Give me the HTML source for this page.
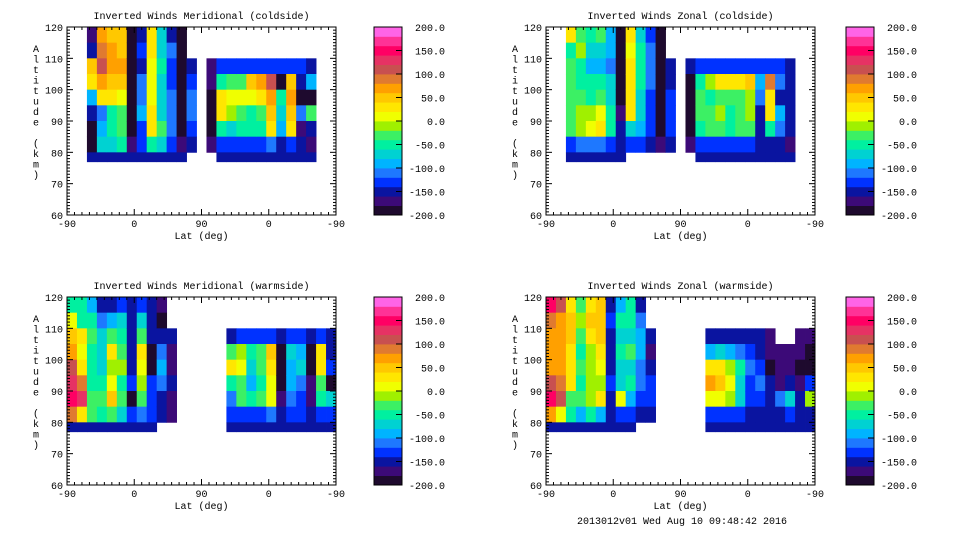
<!DOCTYPE html>
<html><head><meta charset="utf-8"><style>
body{margin:0;background:#fff;width:960px;height:540px;overflow:hidden}
svg text{font-family:"Liberation Mono","DejaVu Sans Mono",monospace;font-size:10px;fill:#000}
</style></head><body>
<svg id="c" width="960" height="540" viewBox="0 0 960 540" xmlns="http://www.w3.org/2000/svg"></svg>
<script>
// Altitude rows (top of each 5 km bin), latitude columns are 27 equal bins across the plot
const rowTops = [120,115,110,105,100,95,90,85,80];
const xTickLabels = ["-90","0","90","0","-90"];
const yTickLabels = [60,70,80,90,100,110,120];
const cbarTickValues = [200,150,100,50,0,-50,-100,-150,-200];
const cbarLevels = [-200,-180,-160,-140,-120,-100,-80,-60,-40,-20,0,20,40,60,80,100,120,140,160,180];
const panelTitles = ["Inverted Winds Meridional (coldside)","Inverted Winds Zonal (coldside)","Inverted Winds Meridional (warmside)","Inverted Winds Zonal (warmside)"];
const n=null;
const meridCold = [
[n,n,n,n,n,n,n,n,n],[n,n,n,n,n,n,n,n,n],
[-180,-150,40,20,-100,-150,-190,-190,-160],
[60,90,110,60,20,-120,-100,-80,-150],
[50,60,60,50,20,-50,-60,-80,-150],
[40,50,60,50,0,-30,-40,-60,-160],
[-190,-190,-190,-190,-190,-190,-190,-170,-160],
[-150,-140,-150,-120,-120,-100,-140,-140,-160],
[30,20,0,0,10,20,20,-60,-150],
[-80,-80,-60,-70,-80,-70,-40,-80,-150],
[-150,-120,-130,-130,-120,-120,-110,-140,-160],
[-190,-190,-190,-190,-190,-190,-190,-170,-160],
[n,n,-150,-130,-110,-120,-130,-150,n],
[n,n,n,n,n,n,n,n,n],
[n,n,-180,-180,-190,-190,-190,-180,n],
[n,n,-140,-60,20,30,-60,-140,-160],
[n,n,-140,-40,0,-10,-80,-140,-160],
[n,n,-140,-30,10,-30,-60,-130,-160],
[n,n,-140,40,10,-50,-50,-130,-160],
[n,n,-140,60,20,-30,-50,-130,-160],
[n,n,-140,100,60,40,30,-120,-160],
[n,n,-140,-190,-60,-80,-100,-150,-160],
[n,n,-140,50,60,50,20,-130,-150],
[n,n,-140,-150,-190,-120,-170,-160,-150],
[n,n,-150,-100,-190,-40,-150,-170,-160],
[n,n,n,n,n,n,n,n,n],[n,n,n,n,n,n,n,n,n]];
const zonalCold = [
[n,n,n,n,n,n,n,n,n],[n,n,n,n,n,n,n,n,n],
[30,-50,-30,-30,-30,-30,-40,-140,-160],
[-30,-20,-50,-60,-40,-10,-10,-120,-150],
[-50,-70,-90,-60,-50,-10,0,-120,-150],
[-40,-70,-100,-60,-40,10,20,-110,-160],
[-100,-100,-120,-80,-80,-60,-60,-130,-160],
[-190,-190,-190,-190,-190,-180,-150,-150,-160],
[20,10,20,30,30,20,-70,-140,n],
[-80,-60,-60,-60,-80,-70,-100,-130,n],
[-140,-120,-110,-120,-130,-130,-130,-150,n],
[-190,-190,-190,-190,-190,-190,-190,-170,n],
[n,n,-160,-150,-130,-130,-140,-160,n],
[n,n,n,n,n,n,n,n,n],
[n,n,-160,-190,-190,-190,-190,-170,n],
[n,n,-140,-60,-40,-40,-60,-140,-160],
[n,n,-140,-20,-50,-40,-40,-130,-160],
[n,n,-140,20,-30,-20,-30,-130,-160],
[n,n,-140,30,-40,-60,-50,-130,-160],
[n,n,-140,30,-40,-40,-30,-130,-160],
[n,n,-140,40,-20,-10,-40,-130,-160],
[n,n,-140,-100,-120,-150,-160,-150,-150],
[n,n,-140,80,20,20,-60,-150,-150],
[n,n,-140,-120,-150,-100,-120,-150,-160],
[n,n,-160,-160,-160,-160,-160,-170,-160],
[n,n,n,n,n,n,n,n,n],[n,n,n,n,n,n,n,n,n]];
const meridWarm = [
[-50,0,50,60,100,120,150,80,-150],
[-60,-50,20,0,30,80,120,20,-150],
[-100,-50,-30,-60,-60,-60,-40,-30,-150],
[-150,-120,-80,-80,-80,-50,-30,-50,-150],
[-150,-100,-30,30,-20,10,40,-40,-150],
[-130,-80,-60,-40,-20,-60,-30,-80,-150],
[-150,-160,-150,-150,-150,-130,-190,-140,-160],
[-130,-70,-30,20,10,-10,-30,-120,-160],
[-150,-150,-150,-190,-190,-140,-130,-140,-160],
[-170,-190,-150,-120,-100,-120,-160,-160,n],
[n,n,-160,-170,-170,-160,-170,-170,n],
[n,n,n,n,n,n,n,n,n],[n,n,n,n,n,n,n,n,n],[n,n,n,n,n,n,n,n,n],[n,n,n,n,n,n,n,n,n],[n,n,n,n,n,n,n,n,n],
[n,n,-150,-30,30,-60,-110,-140,-160],
[n,n,-140,-20,0,-30,-40,-130,-160],
[n,n,-140,-60,-70,-90,-60,-130,-160],
[n,n,-140,-40,-40,-50,-40,-130,-160],
[n,n,-140,40,30,0,10,-120,-160],
[n,n,-150,-190,-190,-190,-170,-160,-160],
[n,n,-140,-80,-90,-100,-110,-140,-160],
[n,n,-140,-100,-80,-120,-130,-140,-150],
[n,n,-150,-190,-190,-180,-170,-160,-150],
[n,n,-140,30,20,-40,-60,-140,-160],
[n,n,-150,-150,-130,-190,-80,-140,-160]];
const zonalWarm = [
[150,80,60,70,60,110,140,60,-150],
[100,70,60,60,60,80,100,0,-150],
[20,40,40,30,30,20,-30,-60,-150],
[-30,-20,-40,-50,-40,-60,-40,-90,-150],
[30,40,20,-20,-10,-10,-20,-60,-150],
[50,40,40,30,0,-10,20,-100,-150],
[-150,-140,-150,-160,-160,-140,-150,-150,-160],
[-100,-60,-80,-60,-80,-80,0,-140,-160],
[-60,-60,-80,-40,-80,-60,-100,-140,-160],
[-150,-120,-100,-90,-120,-110,-130,-150,n],
[n,n,-160,-170,-150,-130,-140,-160,n],
[n,n,n,n,n,n,n,n,n],[n,n,n,n,n,n,n,n,n],[n,n,n,n,n,n,n,n,n],[n,n,n,n,n,n,n,n,n],[n,n,n,n,n,n,n,n,n],
[n,n,-150,-90,20,60,0,-140,-160],
[n,n,-150,-80,20,40,10,-130,-160],
[n,n,-150,-90,-20,10,-20,-130,-160],
[n,n,-150,-110,-60,-70,-80,-140,-160],
[n,n,-160,-140,-120,-130,-140,-150,-160],
[n,n,-160,-150,-140,-120,-130,-150,-160],
[n,n,-170,-170,-190,-150,-160,-160,-160],
[n,n,n,-180,-180,-170,-110,-150,-160],
[n,n,n,-170,-170,-160,-80,-130,-160],
[n,n,-170,-170,-190,-170,-150,-150,-160],
[n,n,-170,-190,-190,-140,-20,-160,-160]];

const palette=["#1e0a2e","#3c0a78","#0a14a0","#0032ff","#1e78ff","#00b4ff","#00d2d2","#00f0a0","#3cf064","#a0f000","#f0ff00","#ffe600","#ffc800","#ffa000","#e07a30","#c85050","#e63264","#ff0064","#ff3296","#ff64e6"];
function colorFor(v){let i=Math.floor((v+200)/20);i=Math.max(0,Math.min(19,i));return palette[i];}

const svg=document.getElementById('c');
const NS="http://www.w3.org/2000/svg";
function mk(tag,attrs,parent){const e=document.createElementNS(NS,tag);for(const k in attrs)e.setAttribute(k,attrs[k]);(parent||svg).appendChild(e);return e;}

const panels=[
 {ox:67,oy:27,grid:meridCold,cb:374,title:panelTitles[0],name:'meridional-coldside'},
 {ox:546,oy:27,grid:zonalCold,cb:846,title:panelTitles[1],name:'zonal-coldside'},
 {ox:67,oy:297,grid:meridWarm,cb:374,title:panelTitles[2],name:'meridional-warmside'},
 {ox:546,oy:297,grid:zonalWarm,cb:846,title:panelTitles[3],name:'zonal-warmside'}];
const W=269,H=188;

panels.forEach(p=>{
 const g=mk('g',{});
 
 
 const xs=i=>p.ox+i*W/p.grid.length;
 const ys=a=>p.oy+(120-a)/60*H;
 p.grid.forEach((col,i)=>{col.forEach((v,r)=>{
   if(v===null)return;
   const top=rowTops[r];
   const bot=(r===rowTops.length-1)?top-3:top-5;
   const c=mk('rect',{x:xs(i).toFixed(2),y:ys(top).toFixed(2),width:(W/p.grid.length+0.4).toFixed(2),height:(ys(bot)-ys(top)+0.4).toFixed(2),fill:colorFor(v)},g);
   
   
 });});
 const fr=mk('rect',{x:p.ox,y:p.oy,width:W,height:H,fill:'none',stroke:'#000','stroke-width':1},g);
 
 
 for(let a=60;a<=120;a++){
   const L=(a%10===0)?6:3; const y=ys(a);
   mk('line',{x1:p.ox,x2:p.ox+L,y1:y,y2:y,stroke:'#000'},g);
   mk('line',{x1:p.ox+W,x2:p.ox+W-L,y1:y,y2:y,stroke:'#000'},g);
 }
 yTickLabels.forEach(a=>{const t=mk('text',{x:p.ox-4,y:ys(a)+4,'text-anchor':'end'},g);t.textContent=a;
   });
 for(let d=0;d<=360;d+=10){
   const L=(d%90===0)?6:3; const x=p.ox+d/360*W;
   mk('line',{x1:x,x2:x,y1:p.oy+H,y2:p.oy+H-L,stroke:'#000'},g);
   mk('line',{x1:x,x2:x,y1:p.oy,y2:p.oy+L,stroke:'#000'},g);
 }
 xTickLabels.forEach((s,k)=>{const t=mk('text',{x:p.ox+k*W/4,y:p.oy+H+12,'text-anchor':'middle'},g);t.textContent=s;
   });
 const xl=mk('text',{x:p.ox+W/2,y:p.oy+H+24,'text-anchor':'middle'},g);xl.textContent='Lat (deg)';
 
 const tt=mk('text',{x:p.ox+W/2,y:p.oy-8,'text-anchor':'middle'},g);tt.textContent=p.title;
 
 const yl=mk('text',{x:p.ox-31,y:p.oy+25,'text-anchor':'middle'},g);
 
 'Altitude (km)'.split('').forEach((ch,k)=>{const s=mk('tspan',{x:p.ox-31,dy:k===0?0:10.5},yl);s.textContent=ch===' '?'\u00a0':ch;});
 const cb=mk('g',{},g);
 
 const cs=v=>p.oy+(200-v)/400*H;
 cbarLevels.forEach(lv=>{const r=mk('rect',{x:p.cb,y:cs(lv+20).toFixed(2),width:28,height:(cs(lv)-cs(lv+20)+0.4).toFixed(2),fill:colorFor(lv+10)},cb);
   });
 mk('rect',{x:p.cb,y:p.oy,width:28,height:H,fill:'none',stroke:'#000'},cb);
 cbarTickValues.forEach(v=>{mk('line',{x1:p.cb+28,x2:p.cb+22,y1:cs(v),y2:cs(v),stroke:'#000'},cb);
   const t=mk('text',{x:p.cb+71,y:cs(v)+4,'text-anchor':'end'},cb);t.textContent=v.toFixed(1);
   });
});
const ft=mk('text',{x:682,y:524,'text-anchor':'middle'});ft.textContent='2013012v01 Wed Aug 10 09:48:42 2016';

</script>
</body></html>
